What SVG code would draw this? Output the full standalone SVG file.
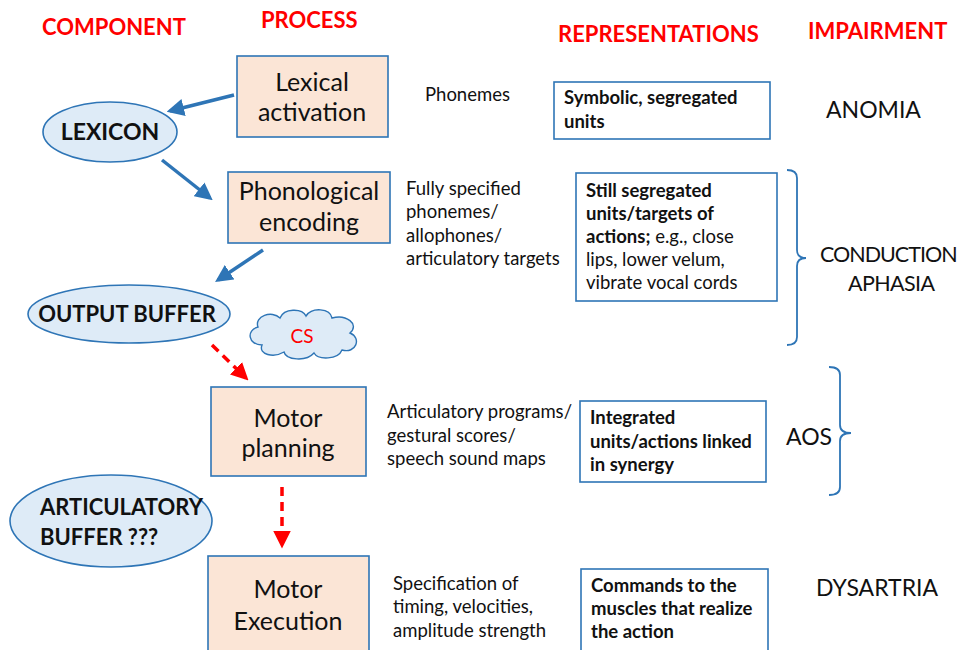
<svg xmlns="http://www.w3.org/2000/svg" width="967" height="650" viewBox="0 0 967 650">
<style>
text{font-family:Lato,"Open Sans","Liberation Sans",sans-serif;fill:#111}
.hdr{font-size:22px;font-weight:bold;fill:#f00}
.proc{fill:#fbe5d6;stroke:#2e75b6;stroke-width:1.6}
.proc-t{font-size:25px;text-anchor:middle}
.comp{fill:#deebf7;stroke:#2e75b6;stroke-width:1.6}
.comp-t{font-size:22px;font-weight:bold}
.rep{fill:#fff;stroke:#2e75b6;stroke-width:1.6}
.rep-t{font-size:18.5px}
.b{font-weight:bold}
.mid{font-size:18.5px}
.imp{font-size:23px}
.blue{stroke:#2e75b6;stroke-width:3.5;fill:none}
.red{stroke:#f00;stroke-width:3.5;fill:none;stroke-dasharray:9 6}
.brace{stroke:#2e75b6;stroke-width:1.8;fill:none}
</style>
<defs>
<marker id="ab" markerWidth="5" markerHeight="5" refX="4" refY="2.5" orient="auto" markerUnits="strokeWidth"><path d="M0,0 L5,2.5 L0,5 Z" fill="#2e75b6"/></marker>
<marker id="ar" markerWidth="5" markerHeight="5" refX="4" refY="2.5" orient="auto" markerUnits="strokeWidth"><path d="M0,0 L5,2.5 L0,5 Z" fill="#f00"/></marker>
</defs>

<g id="headers">
<text class="hdr" x="42" y="35">COMPONENT</text>
<text class="hdr" x="261" y="28">PROCESS</text>
<text class="hdr" x="558" y="42">REPRESENTATIONS</text>
<text class="hdr" x="808" y="39">IMPAIRMENT</text>
</g>

<g id="connectors">
<line class="blue" x1="234" y1="95" x2="170" y2="111" marker-end="url(#ab)"/>
<line class="blue" x1="162" y1="160" x2="210" y2="198" marker-end="url(#ab)"/>
<line class="blue" x1="263" y1="250" x2="218" y2="280" marker-end="url(#ab)"/>
<line class="red" x1="212" y1="345" x2="246" y2="378" marker-end="url(#ar)"/>
<line class="red" x1="282" y1="487" x2="282" y2="545" marker-end="url(#ar)"/>
</g>

<g id="lexical-activation">
<rect class="proc" x="237" y="56" width="151" height="81"/>
<text class="proc-t" x="312" y="91">Lexical</text>
<text class="proc-t" x="312" y="121">activation</text>
</g>
<g id="phonological-encoding">
<rect class="proc" x="228" y="172" width="162" height="71"/>
<text class="proc-t" x="309" y="200">Phonological</text>
<text class="proc-t" x="309" y="231">encoding</text>
</g>
<g id="motor-planning">
<rect class="proc" x="211" y="387" width="155" height="89"/>
<text class="proc-t" x="288" y="427">Motor</text>
<text class="proc-t" x="288" y="457">planning</text>
</g>
<g id="motor-execution">
<rect class="proc" x="208" y="556" width="161" height="100"/>
<text class="proc-t" x="288" y="598">Motor</text>
<text class="proc-t" x="288" y="630">Execution</text>
</g>

<g id="lexicon">
<ellipse class="comp" cx="110" cy="132" rx="67" ry="30"/>
<text class="comp-t" x="110" y="140" text-anchor="middle" style="font-size:23px">LEXICON</text>
</g>
<g id="output-buffer">
<ellipse class="comp" cx="129" cy="314" rx="101" ry="29"/>
<text class="comp-t" x="127" y="322" text-anchor="middle">OUTPUT BUFFER</text>
</g>
<g id="articulatory-buffer">
<ellipse class="comp" cx="111" cy="521" rx="101" ry="46"/>
<text class="comp-t" x="40" y="515">ARTICULATORY</text>
<text class="comp-t" x="40" y="545">BUFFER ???</text>
</g>

<g id="cs">
<path d="M262,345 C248,345 246,330 258,327 C254,316 272,310 280,318 C284,308 302,308 306,316 C312,307 330,308 332,318 C346,314 360,324 350,333 C362,338 356,354 342,350 C338,360 318,360 314,353 C306,362 286,360 284,352 C274,358 258,355 262,345 Z" fill="#deebf7" stroke="#2e75b6" stroke-width="1.4"/>
<text x="302" y="343" text-anchor="middle" style="font-size:19px;fill:#f00">CS</text>
</g>

<g id="process-descriptions">
<text class="mid" x="425" y="101">Phonemes</text>
<text class="mid" x="406" y="195">Fully specified</text>
<text class="mid" x="406" y="218">phonemes/</text>
<text class="mid" x="406" y="242">allophones/</text>
<text class="mid" x="406" y="265">articulatory targets</text>
<text class="mid" x="387" y="418">Articulatory  programs/</text>
<text class="mid" x="387" y="442">gestural scores/</text>
<text class="mid" x="387" y="465">speech sound maps</text>
<text class="mid" x="393" y="590">Specification of</text>
<text class="mid" x="393" y="613">timing, velocities,</text>
<text class="mid" x="393" y="637">amplitude strength</text>
</g>

<g id="rep-symbolic">
<rect class="rep" x="554" y="82" width="216" height="57"/>
<text class="rep-t b" x="564" y="104">Symbolic, segregated</text>
<text class="rep-t b" x="564" y="128">units</text>
</g>
<g id="rep-still">
<rect class="rep" x="576" y="173" width="201" height="128"/>
<text class="rep-t b" x="586" y="197">Still segregated</text>
<text class="rep-t b" x="586" y="220">units/targets of</text>
<text class="rep-t" x="586" y="243"><tspan class="b">actions;</tspan> e.g., close</text>
<text class="rep-t" x="586" y="266">lips, lower velum,</text>
<text class="rep-t" x="586" y="289">vibrate vocal cords</text>
</g>
<g id="rep-integrated">
<rect class="rep" x="580" y="401" width="186" height="81"/>
<text class="rep-t b" x="590" y="424">Integrated</text>
<text class="rep-t b" x="590" y="448">units/actions linked</text>
<text class="rep-t b" x="590" y="471">in synergy</text>
</g>
<g id="rep-commands">
<rect class="rep" x="581" y="569" width="187" height="90"/>
<text class="rep-t b" x="591" y="592">Commands to the</text>
<text class="rep-t b" x="591" y="615">muscles that realize</text>
<text class="rep-t b" x="591" y="638">the action</text>
</g>

<g id="impairments">
<text class="imp" x="820" y="262" style="font-size:21.5px;letter-spacing:-1px">CONDUCTION</text>
<text class="imp" x="848" y="291" style="font-size:21.5px;letter-spacing:-0.6px">APHASIA</text>
<text class="imp" x="826" y="118">ANOMIA</text>
<text class="imp" x="786" y="445">AOS</text>
<text class="imp" x="816" y="596">DYSARTRIA</text>
<path class="brace" d="M787,170 Q797,170 797,178 L797,250 Q797,258 806,258 Q797,258 797,266 L797,337 Q797,345 787,345"/>
<path class="brace" d="M829,367 Q840,367 840,375 L840,425 Q840,433 851,433 Q840,433 840,441 L840,487 Q840,495 829,495"/>
</g>
</svg>
